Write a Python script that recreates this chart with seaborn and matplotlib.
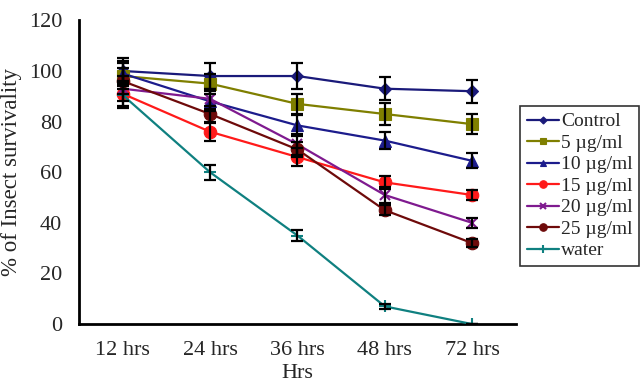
import numpy as np
import pandas as pd
import matplotlib
matplotlib.use("Agg")
import matplotlib.pyplot as plt
import seaborn as sns

categories = ["12 hrs", "24 hrs", "36 hrs", "48 hrs", "72 hrs"]
series_names = ["Control", "5 µg/ml", "10 µg/ml", "15 µg/ml", "20 µg/ml", "25 µg/ml", "water"]
control = [100, 98, 98, 93, 92]
ug5 = [98, 95, 87, 83, 79]
ug10 = [99, 88, 78.5, 72.5, 64.5]
ug15 = [91, 76, 66, 56, 51]
ug20 = [93, 89, 71, 51, 40]
ug25 = [96, 83, 69, 45, 32]
water = [90.5, 60, 35, 7, 0]
err_control = [5, 5, 5, 4.5, 4.5]
err_ug5 = [5, 4, 4, 4.5, 4]
err_ug10 = [5, 4, 4, 3.5, 3]
err_ug15 = [5, 3.5, 3.5, 2.5, 2]
err_ug20 = [5, 4, 4, 3, 2]
err_ug25 = [5, 3, 3, 2, 1.5]
err_water = [5, 3, 2, 1, 0]

values = [control, ug5, ug10, ug15, ug20, ug25, water]
errors = [err_control, err_ug5, err_ug10, err_ug15, err_ug20, err_ug25, err_water]
colors = ["#1a1a7a", "#7f7f00", "#1c1c8c", "#ff1a1a", "#7f1a8f", "#6e0a0a", "#0f8080"]
markers = ["D", "s", "^", "o", "x", "o", "+"]
msizes = [6, 8, 8, 9, 7, 9, 9]

rows = []
for name, vals in zip(series_names, values):
    for i, v in enumerate(vals):
        rows.append({"x": i, "Time": categories[i], "value": v, "series": name})
df = pd.DataFrame(rows)

sns.set_style("white")
plt.rcParams["font.family"] = ["Liberation Serif", "DejaVu Serif"]

fig = plt.figure(figsize=(6.4, 3.84), dpi=100)
ax = fig.add_axes([0.1234, 0.156, 0.806 - 0.1234, 0.947 - 0.156])

for k, name in enumerate(series_names):
    sub = df[df["series"] == name]
    sns.lineplot(data=sub, x="x", y="value", ax=ax, color=colors[k], lw=1.6,
                 marker=markers[k], markersize=msizes[k], markeredgecolor=colors[k],
                 markeredgewidth=1.5 if markers[k] in ("x", "+") else 0.8,
                 label=name, legend=False, zorder=3)
    ax.errorbar(sub["x"], sub["value"], yerr=errors[k], fmt="none",
                ecolor="black", elinewidth=1.6, capsize=4.3, capthick=1.6, zorder=4)

ax.set_xlim(-0.5, 4.5)
ax.set_ylim(0, 120)
ax.set_yticks(np.arange(0, 121, 20))
ax.set_xticks(np.arange(-0.5, 4.6, 1.0))
ax.set_xticklabels([])
ax.set_xticks(np.arange(0, 5), minor=True)
ax.set_xticklabels(categories, minor=True)
ax.tick_params(axis="x", which="minor", length=0, labelsize=16, pad=12)
ax.tick_params(axis="x", which="major", length=5, width=1.5, direction="out", color="black")
ax.tick_params(axis="y", length=5, width=1.5, direction="out", labelsize=16, color="black", pad=7)

for s in ["top", "right"]:
    ax.spines[s].set_visible(False)
for s in ["left", "bottom"]:
    ax.spines[s].set_color("black")
    ax.spines[s].set_linewidth(2)

ax.set_xlabel("Hrs", fontsize=16)
ax.xaxis.set_label_coords(0.5, -0.132)
ax.xaxis.label.set_va("top")
ax.set_ylabel("% of Insect survivality", fontsize=16.5)
ax.yaxis.set_label_coords(-0.13, 0.5)

handles, labels = ax.get_legend_handles_labels()
leg = fig.legend(handles, labels, loc="upper left", bbox_to_anchor=(0.8125, 0.724),
                 fontsize=14, frameon=True, fancybox=False, edgecolor="black",
                 handlelength=1.65, handletextpad=0.1, labelspacing=0.2,
                 borderpad=0.35, borderaxespad=0, markerscale=0.6)
leg.get_frame().set_linewidth(1.2)

fig.savefig("out.png", dpi=100)
